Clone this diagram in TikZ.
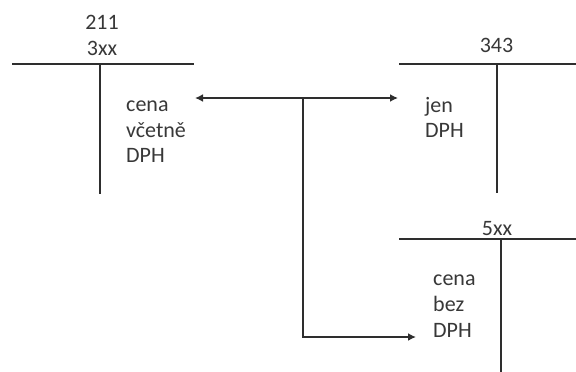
\documentclass[tikz,border=0pt]{standalone}
\usepackage{fontspec}
\setmainfont{Carlito}
\usetikzlibrary{arrows.meta}
\definecolor{ink}{HTML}{2E2E2E}
\definecolor{txt}{HTML}{383838}
\begin{document}
\begin{tikzpicture}[x=1pt,y=-1pt,
  tline/.style={draw=ink,line width=2.2pt},
  lbl/.style={inner sep=0pt,text=txt,font=\fontsize{22}{25}\selectfont},
  arr/.style={draw=ink,line width=2.2pt,-{Latex[length=8pt,width=8pt]}}]
\useasboundingbox (0,0) rectangle (576,372);
% T-account 211 / 3xx
\coordinate (a1l) at (12,64); \coordinate (a1r) at (194,64);
\coordinate (a1t) at (100,64); \coordinate (a1b) at (100,194);
\draw[tline] (a1l) -- (a1r); \draw[tline] (a1t) -- (a1b);
\node[lbl,anchor=base] (n211) at (102,29) {211};
\node[lbl,anchor=base] (n3xx) at (102,55) {3xx};
\node[lbl,anchor=base west] (c1) at (126,111) {cena};
\node[lbl,anchor=base west] (c2) at (126,137) {včetně};
\node[lbl,anchor=base west] (c3) at (126,162) {DPH};
% T-account 343
\coordinate (a2l) at (399,64); \coordinate (a2r) at (576,64);
\coordinate (a2t) at (497,64); \coordinate (a2b) at (497,193);
\draw[tline] (a2l) -- (a2r); \draw[tline] (a2t) -- (a2b);
\node[lbl,anchor=base] (n343) at (496.5,52) {343};
\node[lbl,anchor=base west] (j1) at (425,112) {jen};
\node[lbl,anchor=base west] (j2) at (425,137) {DPH};
% T-account 5xx
\coordinate (a3l) at (399,239); \coordinate (a3r) at (576,239);
\coordinate (a3t) at (501,239); \coordinate (a3b) at (501,372);
\draw[tline] (a3l) -- (a3r); \draw[tline] (a3t) -- (a3b);
\node[lbl,anchor=base] (n5xx) at (497,235) {5xx};
\node[lbl,anchor=base west] (b1) at (433,285) {cena};
\node[lbl,anchor=base west] (b2) at (433,311) {bez};
\node[lbl,anchor=base west] (b3) at (433,337) {DPH};
% connectors
\coordinate (jn) at (303,98);
\coordinate (tipL) at (195,98);
\coordinate (tipR) at (398,98);
\coordinate (corner) at (303,337);
\coordinate (tipB) at (416,337);
\draw[arr] (jn) -- (tipL);
\draw[arr] (jn) -- (tipR);
\draw[arr] (jn) -- (corner) -- (tipB);
\end{tikzpicture}
\end{document}
